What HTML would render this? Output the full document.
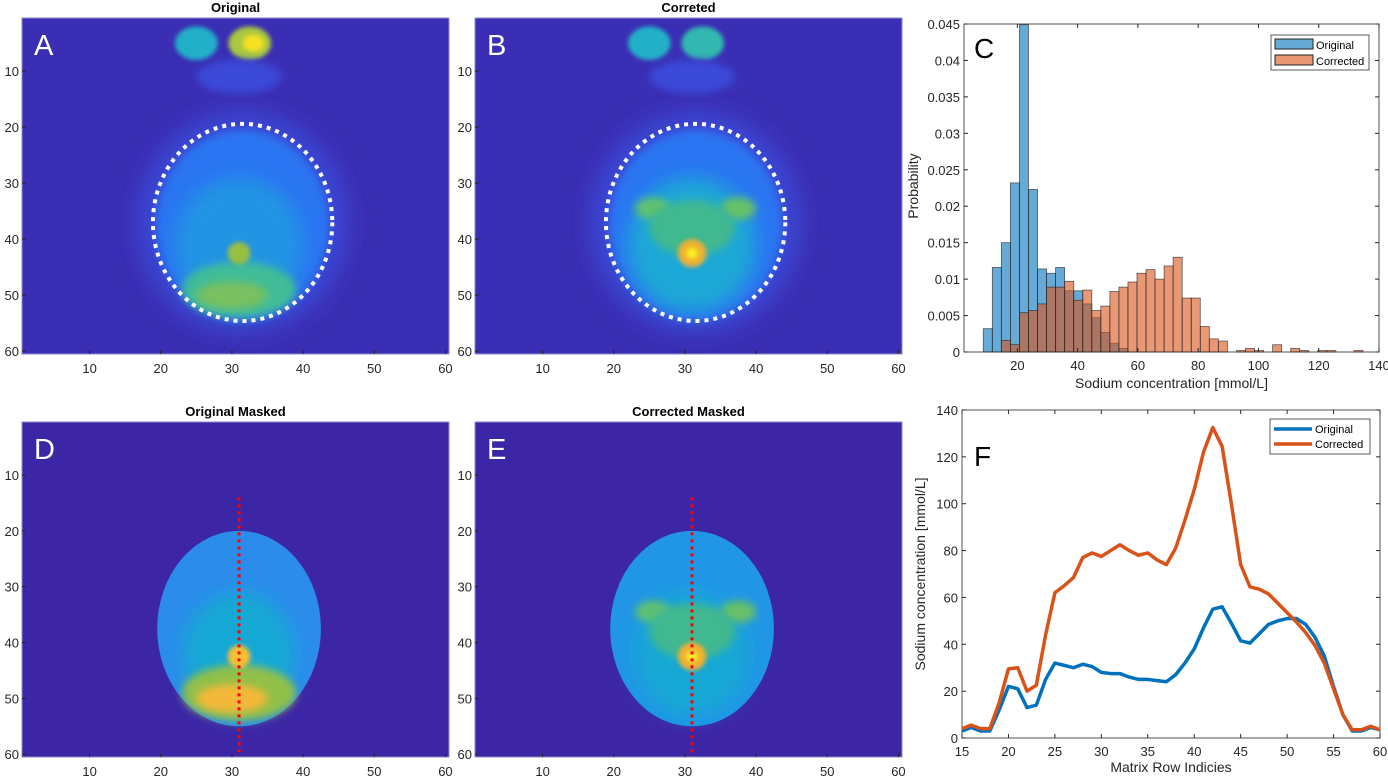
<!DOCTYPE html>
<html><head><meta charset="utf-8"><style>
html,body{margin:0;padding:0;background:#fff}
svg{display:block;font-family:"Liberation Sans",sans-serif}
</style></head><body>
<svg id="fig" width="1388" height="778" viewBox="0 0 1388 778" xmlns="http://www.w3.org/2000/svg">
<defs>
<filter id="blur4" x="-50%" y="-50%" width="200%" height="200%"><feGaussianBlur stdDeviation="4"/></filter>
<filter id="blur8" x="-50%" y="-50%" width="200%" height="200%"><feGaussianBlur stdDeviation="9"/></filter>
<filter id="blur2" x="-50%" y="-50%" width="200%" height="200%"><feGaussianBlur stdDeviation="2"/></filter>
<clipPath id="clipA"><rect x="22" y="18" width="427" height="336"/></clipPath>
<clipPath id="clipB"><rect x="475" y="18" width="427" height="336"/></clipPath>
<clipPath id="clipD"><rect x="22" y="422" width="427" height="335"/></clipPath>
<clipPath id="clipE"><rect x="475" y="422" width="427" height="335"/></clipPath>
</defs>
<g id="root"></g>
</svg>
<script>
// ---- Histogram C data (bin width 3, first edge 8.7) ----
const histBinStart = 8.7;
const histBinWidth = 3;
const histOriginal = [0.0032,0.0116,0.0150,0.0232,0.0449,0.0223,0.0114,0.0108,0.0116,0.0084,0.0084,0.0066,0.0047,0.0027,0.0012,0.0005];
const histCorrected = [0,0,0.0016,0.0010,0.0054,0.0057,0.0066,0.0089,0.0089,0.0097,0.0071,0.0085,0.0057,0.0063,0.0083,0.0089,0.0096,0.0108,0.0113,0.0100,0.0118,0.0130,0.0074,0.0074,0.0035,0.0018,0.0015,0,0.0002,0.0005,0.0002,0,0.0010,0,0.0005,0.0002,0,0.0002,0.0002,0,0,0.0002];
const histXTicks = [20,40,60,80,100,120,140];
const histYTicks = [0,0.005,0.01,0.015,0.02,0.025,0.03,0.035,0.04,0.045];
const histYTickLabels = ["0","0.005","0.01","0.015","0.02","0.025","0.03","0.035","0.04","0.045"];
// ---- Line F data ----
const rowIdx = [15,16,17,18,19,20,21,22,23,24,25,26,27,28,29,30,31,32,33,34,35,36,37,38,39,40,41,42,43,44,45,46,47,48,49,50,51,52,53,54,55,56,57,58,59,60];
const lineOriginal = [3,4.5,3,3,12,22,21,13,14,25,32,31,30,31.5,30.5,28,27.5,27.5,26,25,25,24.5,24,27,32,38,47,55,56,49,41.5,40.5,44.5,48.5,50,51,51,48.5,43,35,22,10,3,3,4.5,3.5];
const lineCorrected = [4,5.5,4,4,15,29.5,30,20,22.5,44,62,65,68.5,77,79,77.5,80,82.5,80,78,79,76,74,81,93,106,122,132.5,124.5,100,74,64.5,63.5,61.5,57.5,53.5,49.5,45,39.5,32,21,10,3.5,3.5,5,3.5];
const lineXTicks = [15,20,25,30,35,40,45,50,55,60];
const lineYTicks = [0,20,40,60,80,100,120,140];
const imgTicks = [10,20,30,40,50,60];

const NS="http://www.w3.org/2000/svg";
const root=document.getElementById('root');
function mk(tag,attrs,parent){const e=document.createElementNS(NS,tag);for(const k in attrs)e.setAttribute(k,attrs[k]);(parent||root).appendChild(e);return e;}
function txt(x,y,s,attrs,parent){const e=mk('text',Object.assign({x:x,y:y,fill:'#262626','font-size':'13'},attrs||{}),parent);e.textContent=s;return e;}

// ---------- Image panels ----------
function imgPanel(ox,oy,h,kind,title,letter,clip){
  const w=427, cw=w/60, rh=h/60;
  const X=c=>ox+(c-0.5)*cw, Y=r=>oy+(r-0.5)*rh;
  const g=mk('g',{'clip-path':'url(#'+clip+')'});
  
  
  const masked = kind.indexOf('masked')>=0;
  const corr = kind.indexOf('corrected')>=0;
  mk('rect',{x:ox,y:oy,width:w,height:h,fill:masked?'#3d26a6':'#3a2eb4'},g);
  if(!masked){
    mk('ellipse',{cx:X(31.5),cy:Y(37),rx:15*cw,ry:20*rh,fill:'#3b44d0',filter:'url(#blur8)'},g);
    mk('ellipse',{cx:X(31.5),cy:Y(37.5),rx:12.2*cw,ry:17*rh,fill:'#2c74f2',filter:'url(#blur4)'},g);
    mk('ellipse',{cx:X(31),cy:Y(41),rx:9*cw,ry:12*rh,fill:corr?'#1aa8d6':'#2094e4',filter:'url(#blur8)'},g);
    // top markers
    mk('ellipse',{cx:X(25),cy:Y(5),rx:3*cw,ry:3*rh,fill:'#22b0c8',filter:'url(#blur2)'},g);
    mk('ellipse',{cx:X(32.5),cy:Y(5),rx:3*cw,ry:3*rh,fill:corr?'#30b8b0':'#a8c840',filter:'url(#blur2)'},g);
    if(!corr){mk('ellipse',{cx:X(33),cy:Y(5),rx:1.5*cw,ry:1.5*rh,fill:'#f8e020',filter:'url(#blur2)'},g);}
    mk('ellipse',{cx:X(31),cy:Y(11),rx:6*cw,ry:3*rh,fill:'#3a4ad8',filter:'url(#blur4)'},g);
  } else {
    mk('ellipse',{cx:X(31),cy:Y(37.5),rx:11.5*cw,ry:17.5*rh,fill:corr?'#2196e6':'#2c8cec'},g);
    mk('ellipse',{cx:X(31),cy:Y(42),rx:8*cw,ry:11*rh,fill:'#14a8d4',filter:'url(#blur8)'},g);
  }
  if(!corr){
    mk('ellipse',{cx:X(31),cy:Y(49),rx:8*cw,ry:5*rh,fill:masked?'#90c048':'#40bc98',filter:'url(#blur4)'},g);
    mk('ellipse',{cx:X(30),cy:Y(50),rx:5*cw,ry:2.5*rh,fill:masked?'#f4b838':'#78c060',filter:'url(#blur4)'},g);
    mk('ellipse',{cx:X(31),cy:Y(42.5),rx:1.6*cw,ry:2*rh,fill:masked?'#f8c030':'#98c040',filter:'url(#blur2)'},g);
  } else {
    mk('ellipse',{cx:X(25.5),cy:Y(34.5),rx:2.5*cw,ry:2*rh,fill:'#60c070',filter:'url(#blur4)'},g);
    mk('ellipse',{cx:X(37.5),cy:Y(34.5),rx:2.5*cw,ry:2*rh,fill:'#68c068',filter:'url(#blur4)'},g);
    mk('ellipse',{cx:X(31),cy:Y(38),rx:6*cw,ry:5*rh,fill:'#40b890',filter:'url(#blur4)'},g);
    mk('ellipse',{cx:X(31),cy:Y(42.5),rx:2*cw,ry:2.5*rh,fill:'#f0b030',filter:'url(#blur2)'},g);
    mk('ellipse',{cx:X(31),cy:Y(42.5),rx:0.8*cw,ry:1*rh,fill:'#f8f020',filter:'url(#blur2)'},g);
  }
  if(!masked){
    const el=mk('ellipse',{cx:X(31.5),cy:Y(37),rx:12.6*cw,ry:17.6*rh,fill:'none',stroke:'#fff','stroke-width':4,'stroke-dasharray':'4 5'},g);
    
    
  } else {
    const ln=mk('line',{x1:X(31),y1:Y(14),x2:X(31),y2:Y(60.5),stroke:'#ff0000','stroke-width':3,'stroke-dasharray':'3 4'},g);
    
    
  }
  mk('rect',{x:ox,y:oy,width:w,height:h,fill:'none',stroke:'#8c8cc8','stroke-width':1});
  imgTicks.forEach(t=>{
    mk('line',{x1:X(t),y1:oy+h,x2:X(t),y2:oy+h-4,stroke:'#262626'});
    mk('line',{x1:ox,y1:Y(t),x2:ox+4,y2:Y(t),stroke:'#262626'});
    txt(X(t),oy+h+19,String(t),{'text-anchor':'middle'});
    txt(ox-3,Y(t)+5,String(t),{'text-anchor':'end'});
  });
  const tt=txt(ox+w/2,oy-6,title,{'text-anchor':'middle','font-weight':'bold','font-size':'13',fill:'#000'});
  
  
  const lt=txt(ox+12,oy+37,letter,{fill:'#fff','font-size':'29'});
  
  
}
imgPanel(22,18,336,'original','Original','A','clipA');
imgPanel(475,18,336,'corrected','Correted','B','clipB');
imgPanel(22,422,335,'original-masked','Original Masked','D','clipD');
imgPanel(475,422,335,'corrected-masked','Corrected Masked','E','clipE');

// ---------- Histogram C ----------
(function(){
  const L=964,R=1379,T=24,B=352, x0=2.3,x1=140, y1=0.045;
  const sx=v=>L+(v-x0)/(x1-x0)*(R-L), sy=v=>B-v/y1*(B-T);
  const g=mk('g',{});
  
  
  mk('rect',{x:L,y:T,width:R-L,height:B-T,fill:'#fff',stroke:'none'},g);
  function bars(arr,color,name){
    arr.forEach((v,i)=>{
      if(v<=0)return;
      const a=histBinStart+i*histBinWidth;
      const r=mk('rect',{x:sx(a),y:sy(v),width:sx(a+histBinWidth)-sx(a),height:B-sy(v),fill:color,'fill-opacity':0.6,stroke:'#222','stroke-opacity':0.7,'stroke-width':0.8},g);
      
      
    });
  }
  bars(histOriginal,'#0072bd','original');
  bars(histCorrected,'#d95319','corrected');
  mk('rect',{x:L,y:T,width:R-L,height:B-T,fill:'none',stroke:'#262626','stroke-width':0.8});
  histXTicks.forEach(t=>{
    mk('line',{x1:sx(t),y1:B,x2:sx(t),y2:B-4,stroke:'#262626'});
    mk('line',{x1:sx(t),y1:T,x2:sx(t),y2:T+4,stroke:'#262626'});
    txt(sx(t),B+18,String(t),{'text-anchor':'middle'});
  });
  histYTicks.forEach((t,i)=>{
    mk('line',{x1:L,y1:sy(t),x2:L+4,y2:sy(t),stroke:'#262626'});
    mk('line',{x1:R,y1:sy(t),x2:R-4,y2:sy(t),stroke:'#262626'});
    txt(L-4,sy(t)+5,histYTickLabels[i],{'text-anchor':'end'});
  });
  const xl=txt((L+R)/2,B+36,'Sodium concentration [mmol/L]',{'text-anchor':'middle','font-size':'14'});
  
  
  const yl=txt(0,0,'Probability',{'text-anchor':'middle','font-size':'14',transform:'translate(918,186) rotate(-90)'});
  
  
  txt(L+10,T+34,'C',{'font-size':'28',fill:'#000'});
  const lg=mk('g',{});
  
  
  mk('rect',{x:1271,y:35,width:98,height:35,fill:'#fff',stroke:'#333','stroke-width':0.8},lg);
  mk('rect',{x:1275,y:39,width:38,height:10,fill:'#0072bd','fill-opacity':0.6,stroke:'#222'},lg);
  mk('rect',{x:1275,y:55,width:38,height:10,fill:'#d95319','fill-opacity':0.6,stroke:'#222'},lg);
  txt(1316,49,'Original',{'font-size':'11',fill:'#000'},lg);
  txt(1316,65,'Corrected',{'font-size':'11',fill:'#000'},lg);
})();

// ---------- Line F ----------
(function(){
  const L=962,R=1380,T=410,B=738;
  const sx=v=>L+(v-15)/45*(R-L), sy=v=>B-v/140*(B-T);
  const g=mk('g',{});
  
  
  mk('rect',{x:L,y:T,width:R-L,height:B-T,fill:'#fff',stroke:'#262626','stroke-width':0.8},g);
  lineXTicks.forEach(t=>{
    mk('line',{x1:sx(t),y1:B,x2:sx(t),y2:B-4,stroke:'#262626'},g);
    mk('line',{x1:sx(t),y1:T,x2:sx(t),y2:T+4,stroke:'#262626'},g);
    txt(sx(t),B+18,String(t),{'text-anchor':'middle'},g);
  });
  lineYTicks.forEach(t=>{
    mk('line',{x1:L,y1:sy(t),x2:L+4,y2:sy(t),stroke:'#262626'},g);
    mk('line',{x1:R,y1:sy(t),x2:R-4,y2:sy(t),stroke:'#262626'},g);
    txt(L-4,sy(t)+5,String(t),{'text-anchor':'end'},g);
  });
  function series(arr,color,name){
    const p=mk('polyline',{points:arr.map((v,i)=>sx(rowIdx[i])+','+sy(v)).join(' '),fill:'none',stroke:color,'stroke-width':3.5,'stroke-linejoin':'round'},g);
    
    
  }
  series(lineOriginal,'#0072bd','original');
  series(lineCorrected,'#d95319','corrected');
  const xl=txt((L+R)/2,B+34,'Matrix Row Indicies',{'text-anchor':'middle','font-size':'14'},g);
  
  
  const yl=txt(0,0,'Sodium concentration [mmol/L]',{'text-anchor':'middle','font-size':'14',transform:'translate(925,574) rotate(-90)'},g);
  
  
  txt(L+12,T+56,'F',{'font-size':'28',fill:'#000'},g);
  const lg=mk('g',{});
  
  
  mk('rect',{x:1270,y:419,width:100,height:35,fill:'#fff',stroke:'#333','stroke-width':0.8},lg);
  mk('line',{x1:1274,y1:429,x2:1312,y2:429,stroke:'#0072bd','stroke-width':3.5},lg);
  mk('line',{x1:1274,y1:444,x2:1312,y2:444,stroke:'#d95319','stroke-width':3.5},lg);
  txt(1315,433,'Original',{'font-size':'11',fill:'#000'},lg);
  txt(1315,448,'Corrected',{'font-size':'11',fill:'#000'},lg);
})();
</script>
</body></html>
